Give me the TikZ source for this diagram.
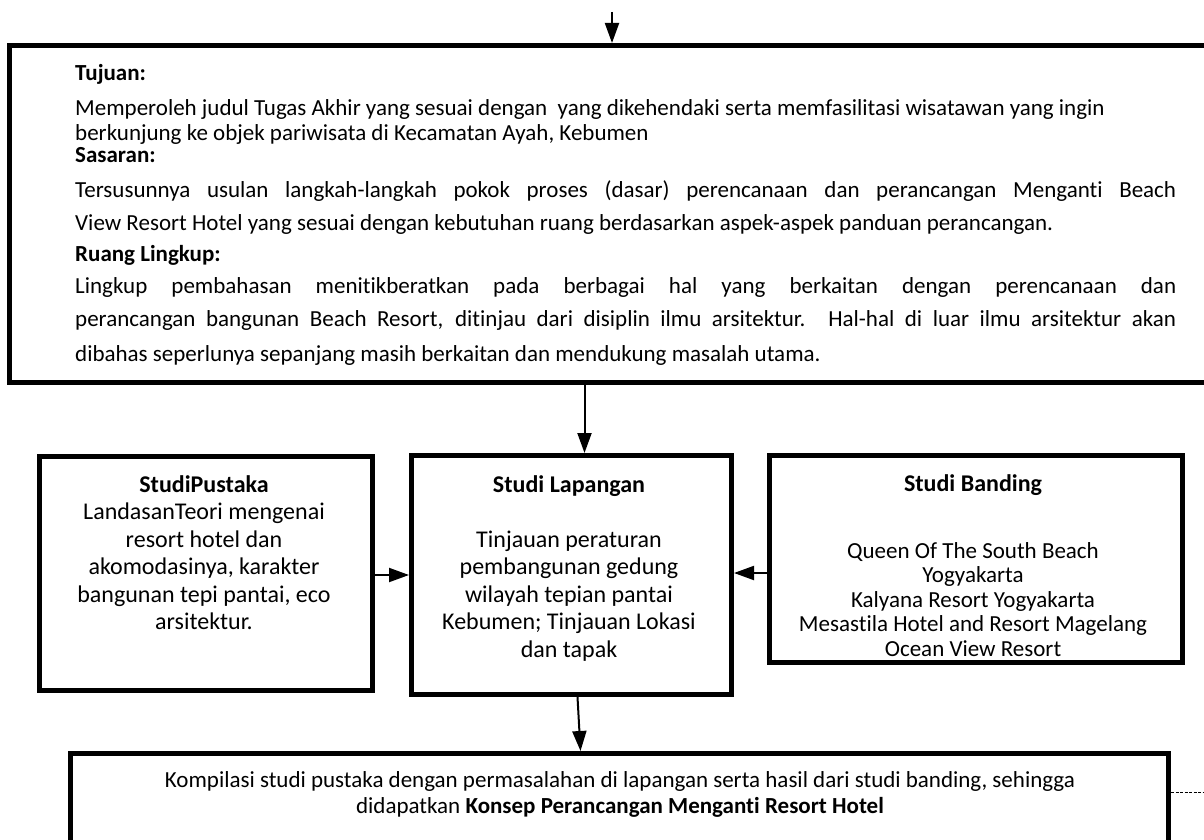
\documentclass[tikz,border=0pt]{standalone}
\usepackage{fontspec}
\setmainfont{Carlito}[Ligatures={NoCommon,NoContextual},Contextuals=NoAlternate]
\usetikzlibrary{arrows.meta}
\begin{document}
\begin{tikzpicture}[x=1pt,y=-1pt,
  box/.style={draw, line width=5pt, inner sep=0pt, anchor=north west},
  arr/.style={line width=2pt, -{Triangle[length=20pt,width=14pt]}},
  tl/.style={anchor=base west, inner sep=0pt, font=\fontsize{23}{27}\selectfont},
  bt/.style={align=center, inner sep=0pt, anchor=north, font=\fontsize{24}{27.5}\selectfont},
  bh/.style={anchor=base, inner sep=0pt, font=\fontsize{24}{27.5}\selectfont\bfseries},
  kt/.style={anchor=base, inner sep=0pt, font=\fontsize{23}{27}\selectfont},
]
\useasboundingbox (0,0) rectangle (1204,840);
% boxes
\node[box, minimum width=1223pt, minimum height=337pt] (tbox) at (7,43) {};
\node[box, minimum width=333pt, minimum height=234pt] (pus) at (37,454) {};
\node[box, minimum width=320pt, minimum height=239pt] (lap) at (409,453) {};
\node[box, minimum width=413pt, minimum height=207pt] (ban) at (767,453) {};
\node[box, minimum width=1098pt, minimum height=140pt] (kbox) at (68,751) {};
% top box text
\node[tl] (t1) at (75,81) {\textbf{Tujuan:}};
\node[tl] (t2) at (75,116) {Memperoleh judul Tugas Akhir yang sesuai dengan\ \ yang dikehendaki serta memfasilitasi wisatawan yang ingin};
\node[tl] (t3) at (75,140) {berkunjung ke objek pariwisata di Kecamatan Ayah, Kebumen};
\node[tl] (t4) at (75,162) {\textbf{Sasaran:}};
\node[tl] (t5) at (75,197) {\makebox[1101pt][s]{Tersusunnya usulan langkah-langkah pokok proses (dasar) perencanaan dan perancangan Menganti Beach}};
\node[tl] (t6) at (75,230) {View Resort Hotel yang sesuai dengan kebutuhan ruang berdasarkan aspek-aspek panduan perancangan.};
\node[tl] (t7) at (75,261) {\textbf{Ruang Lingkup:}};
\node[tl] (t8) at (75,293) {\makebox[1101pt][s]{Lingkup pembahasan menitikberatkan pada berbagai hal yang berkaitan dengan perencanaan dan}};
\node[tl] (t9) at (75,326) {\makebox[1101pt][s]{perancangan bangunan Beach Resort, ditinjau dari disiplin ilmu arsitektur. Hal-hal di luar ilmu arsitektur akan}};
\node[tl] (t10) at (75,361) {dibahas seperlunya sepanjang masih berkaitan dan mendukung masalah utama.};
% lower boxes text
\node[bt] (pust) at (204,475) {\textbf{StudiPustaka}\\LandasanTeori mengenai\\resort hotel dan\\akomodasinya, karakter\\bangunan tepi pantai, eco\\arsitektur.};
\node[bt] (lapt) at (569,475) {\textbf{Studi Lapangan}\\[27.5pt]Tinjauan peraturan\\pembangunan gedung\\wilayah tepian pantai\\Kebumen; Tinjauan Lokasi\\dan tapak};
\node[bh] (banh) at (973,491) {Studi Banding};
\node[bt, font=\fontsize{23}{24.5}\selectfont] (bant) at (973,542) {Queen Of The South Beach\\Yogyakarta\\Kalyana Resort Yogyakarta\\Mesastila Hotel and Resort Magelang\\Ocean View Resort};
% bottom box text
\node[kt] (k1) at (620,787) {Kompilasi studi pustaka dengan permasalahan di lapangan serta hasil dari studi banding, sehingga};
\node[kt] (k2) at (620,813) {didapatkan \textbf{Konsep Perancangan Menganti Resort Hotel}};
% connectors
\coordinate (start) at (612,12);
\coordinate (dashend) at (1204,792);
\coordinate (lapin) at ([xshift=13pt]lap.north);
\draw[arr] (start) -- (tbox.north -| start);
\draw[arr] (tbox.south -| lapin) -- (lapin);
\draw[arr] (pus.east |- 0,575) -- (lap.west |- 0,575);
\draw[arr] (ban.west |- 0,573) -- (lap.east |- 0,573);
\draw[arr] ([xshift=6pt]lap.south) -- ([xshift=-39pt]kbox.north);
\draw[dashed, line width=0.7pt, dash pattern=on 3pt off 1.5pt] (kbox.east |- dashend) -- (dashend);
\end{tikzpicture}
\end{document}
